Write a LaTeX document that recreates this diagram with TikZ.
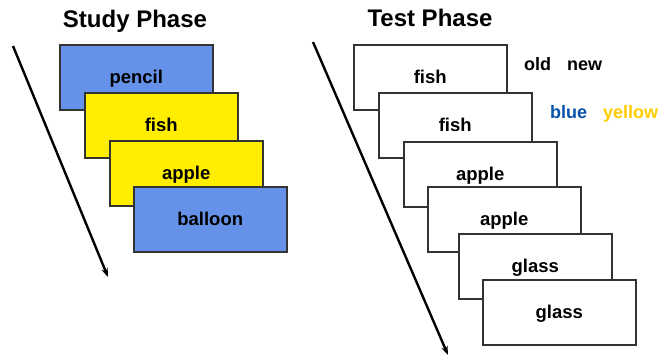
\documentclass[tikz,border=0pt]{standalone}
\usepackage{fontspec}
\setmainfont{Liberation Sans}
\usetikzlibrary{arrows.meta}
\definecolor{boxblue}{HTML}{6592E8}
\definecolor{boxyellow}{HTML}{FFEE00}
\definecolor{txtblue}{HTML}{0552A8}
\definecolor{txtyellow}{HTML}{FFCC00}
\definecolor{edge}{HTML}{333333}
\tikzset{
  card/.style={draw=edge, line width=1.5pt, anchor=north west, minimum width=153pt, minimum height=65pt,
    inner sep=0pt, text height=13.3pt, text depth=0pt, font=\fontsize{18.5}{21}\selectfont\bfseries},
  bluecard/.style={card, fill=boxblue},
  yellowcard/.style={card, fill=boxyellow},
  whitecard/.style={card, fill=white},
  title/.style={font=\fontsize{24}{28}\selectfont\bfseries, anchor=base, inner sep=0pt},
  word/.style={font=\fontsize{18}{21}\selectfont\bfseries, anchor=base west, inner sep=0pt},
  timearrow/.style={line width=2.4pt, -{Stealth[length=9pt,width=6.5pt]}}
}
\begin{document}
\begin{tikzpicture}[x=1pt,y=-1pt]
\useasboundingbox (0,0) rectangle (664,362);
% Study phase
\node[title] (st) at (135,27) {Study Phase};
\node[bluecard] (s1) at (59,44) {pencil};
\node[yellowcard] (s2) at (84,92) {fish};
\node[yellowcard] (s3) at (109,140) {apple};
\node[bluecard] (s4) at (133,186) {balloon};
\coordinate (sa) at (13,46);
\coordinate (sb) at (108,277);
\draw[timearrow] (sa) -- (sb);
% Test phase
\node[title] (tt) at (430,26) {Test Phase};
\node[whitecard] (t1) at (353,44) {fish};
\node[whitecard] (t2) at (378,92) {fish};
\node[whitecard] (t3) at (403,141) {apple};
\node[whitecard] (t4) at (427,186) {apple};
\node[whitecard] (t5) at (458,233) {glass};
\node[whitecard] (t6) at (482,279) {glass};
\coordinate (ta) at (313,42);
\coordinate (tb) at (448,355);
\draw[timearrow] (ta) -- (tb);
% responses
\node[word] (old) at (524,70) {old};
\node[word] (new) at (567,70) {new};
\node[word, text=txtblue] (blue) at (550,118) {blue};
\node[word, text=txtyellow] (yellow) at (603,118) {yellow};
\end{tikzpicture}
\end{document}
